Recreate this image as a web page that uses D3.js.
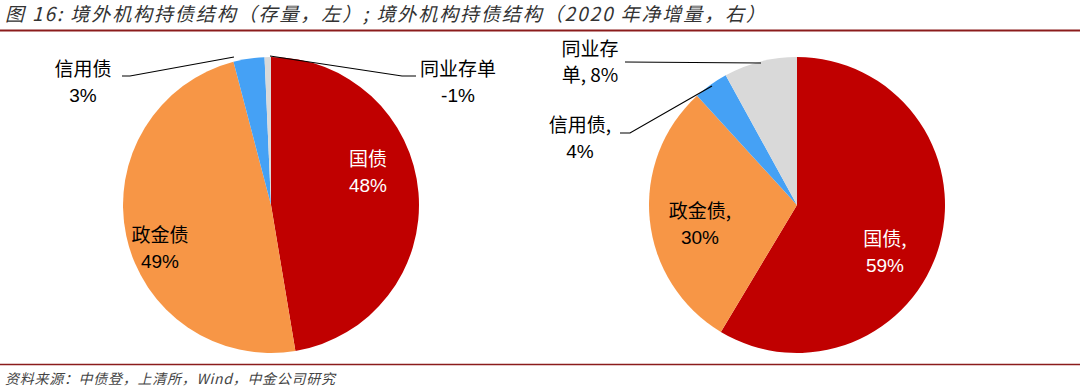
<!DOCTYPE html>
<html><head><meta charset="utf-8">
<script src="https://cdn.jsdelivr.net/npm/d3@7"></script>
<style>
body{margin:0;background:#fff;}
svg text{font-family:"Liberation Sans","Noto Sans CJK SC",sans-serif;}
</style></head>
<body><svg id="c" width="1080" height="391"></svg>
<script>
const categories = ["国债","政金债","信用债","同业存单"];
const leftValues = [47.6, 48.8, 3.4, -0.7];   // 存量
const rightValues = [58.6, 29.6, 3.8, 8.0];   // 2020年净增量
const colors = ["#C00000","#F79646","#45A1F5","#D9D9D9"];
const titleText = "图 16: 境外机构持债结构（存量，左）; 境外机构持债结构（2020 年净增量，右）";
const sourceText = "资料来源：中债登，上清所，Wind，中金公司研究";

const svg = d3.select("#c");
const cjk = '"Noto Sans CJK SC","Liberation Sans",sans-serif';

svg.append("text").attr("x",5).attr("y",21).attr("font-size",19).attr("font-style","italic")
  .attr("fill","#333").style("font-family",cjk)
  .attr("textLength",760).attr("lengthAdjust","spacing").text(titleText);
svg.append("line").attr("x1",0).attr("x2",1080).attr("y1",30.5).attr("y2",30.5).attr("stroke","#8B1C1C").attr("stroke-width",2);
svg.append("line").attr("x1",0).attr("x2",1080).attr("y1",364.5).attr("y2",364.5).attr("stroke","#8B1C1C").attr("stroke-width",1.5);
svg.append("text").attr("x",5).attr("y",384).attr("font-size",14).attr("font-style","italic")
  .attr("fill","#444").style("font-family",cjk)
  .attr("textLength",330).attr("lengthAdjust","spacing").text(sourceText);

const pie = d3.pie().sort(null).value(d => Math.abs(d.v));
const R = 148;
const arc = d3.arc().innerRadius(0).outerRadius(R);
const pct = v => d3.format(".0%")(v).replace("\u2212","-");

function drawPie(cx, cy, values){
  const data = categories.map((c,i)=>({c, v:values[i], i}));
  const g = svg.append("g").attr("transform",`translate(${cx},${cy})`);
  g.selectAll("path").data(pie(data)).join("path")
    .attr("d",arc).attr("fill",d=>colors[d.data.i]);
  return {g, data};
}

function label(x, y, lines, color){
  const t = svg.append("text").attr("x",x).attr("y",y).attr("text-anchor","middle")
    .attr("font-size",19).attr("fill",color);
  lines.forEach((l,k)=>{
    t.append("tspan").attr("x",x).attr("dy",k===0?0:26).style("font-family", /[\u4e00-\u9fff]/.test(l)?cjk:null).text(l);
  });
}
function leader(pts){
  svg.append("path").attr("d",d3.line()(pts)).attr("fill","none").attr("stroke","#000").attr("stroke-width",1.2);
}

// Left pie
drawPie(271, 205, leftValues);
label(368, 166, ["国债", pct(leftValues[0]/100)], "#fff");
label(160, 242, ["政金债", pct(leftValues[1]/100)], "#000");
label(83, 76, ["信用债", pct(leftValues[2]/100)], "#000");
label(458, 76, ["同业存单", pct(leftValues[3]/100)], "#000");
leader([[122,76],[130,76],[234,57]]);
leader([[270,56],[402,76],[416,76]]);

// Right pie
drawPie(797, 205, rightValues);
label(885, 246, ["国债,", pct(rightValues[0]/100)], "#fff");
label(700, 218, ["政金债,", pct(rightValues[1]/100)], "#000");
label(580, 132, ["信用债,", pct(rightValues[2]/100)], "#000");
label(590, 56, ["同业存", "单, " + pct(rightValues[3]/100)], "#000");
leader([[625,62],[761,63]]);
leader([[620,133],[630,133],[712,86]]);
</script></body></html>
